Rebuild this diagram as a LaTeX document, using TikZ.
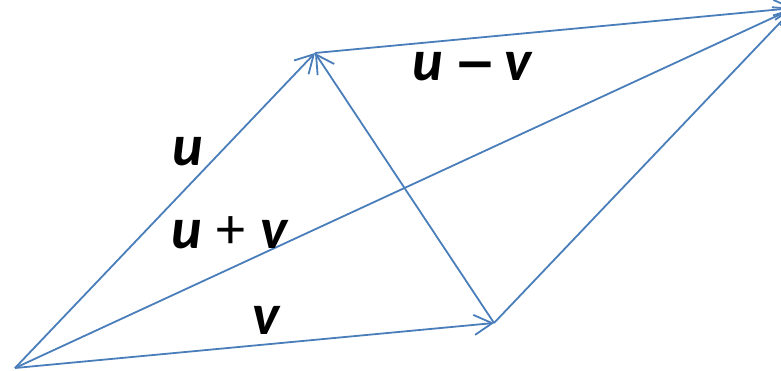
\documentclass[tikz,border=0pt]{standalone}
\usepackage{fontspec}
\newfontfamily\lblfont{Carlito}
\newfontfamily\symfont{DejaVu Sans}
\usetikzlibrary{arrows.meta}
\definecolor{vecblue}{RGB}{74,126,187}
\newcommand{\opplus}{{\fontseries{m}\upshape +}}
\newcommand{\opminus}{{\symfont\bfseries\upshape\fontsize{50}{50}\selectfont −}}
\begin{document}
\begin{tikzpicture}[x=1pt,y=-1pt,
  vec/.style={draw=vecblue,line width=1.8pt,-{Straight Barb[length=18pt,width=20pt,line width=1.8pt]}},
  lbl/.style={inner sep=0pt,anchor=base west,font=\lblfont\bfseries\itshape\fontsize{58}{62}\selectfont}]
\useasboundingbox (0,0) rectangle (781,371);
\clip (0,0) rectangle (781,371);
\coordinate (O) at (15,368);
\coordinate (U) at (315,53);
\coordinate (V) at (494,323);
\coordinate (S) at (794,8);
\draw[vec] (O) -- (U);
\draw[vec] (O) -- (V);
\draw[vec] (O) -- (S);
\draw[vec] (V) -- (U);
\draw[vec] (U) -- (S);
\draw[vec] (V) -- (S);
\node[lbl] (lu) at (172,166) {u};
\node[lbl] (lupv) at (171,249) {u\hspace{15pt}\opplus\hspace{15pt}v};
\node[lbl] (lv) at (252,334) {v};
\node[lbl] (lumv) at (412,81) {u\hspace{12pt}\opminus\hspace{8pt}v};
\end{tikzpicture}
\end{document}
